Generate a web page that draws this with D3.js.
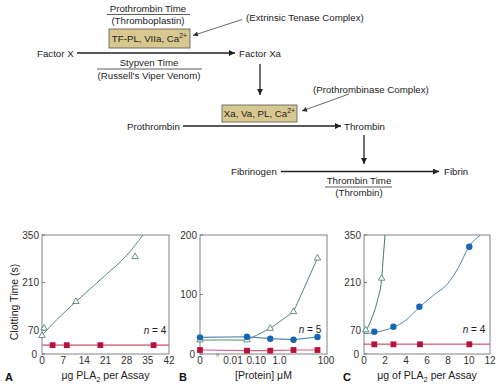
<!DOCTYPE html>
<html><head><meta charset="utf-8">
<script src="https://cdn.jsdelivr.net/npm/d3@7"></script>
<style>body{margin:0;background:#fff}svg{display:block;font-family:"Liberation Sans",Arial,sans-serif}</style>
</head><body>
<script>
// ---------- Data ----------
// Panel A
const aTicksX = [0, 7, 14, 21, 28, 35, 42];
const aTicksY = [0, 70, 210, 350];
const aTriX = [0, 0.7, 11.2, 30.8];
const aTriY = [54, 76, 154, 286];
const aCurveX = [0, 5, 11, 21, 28, 33.4];
const aCurveY = [55, 102, 152, 232, 290, 350];
const aSqX = [3.5, 8.2, 19.3, 36.9];
const aSqY = [26, 26, 26, 26];
const aLineY = 26;
// Panel B
const bTickLabels = ["0", "0.01", "0.10", "1.0", "100"];
const bTickVals = [0, 0.01, 0.1, 1, 100];
const bTicksY = [0, 100, 200];
const bX = [0, 0.04, 0.4, 4, 43];
const bCircY = [28, 29, 25.7, 24, 28.6];
const bTriY = [23.5, 23.5, 43, 71, 161];
const bSqY = [6.7, 5.6, 5.6, 6.7, 6.7];
// Panel C
const cTicksX = [0, 2, 4, 6, 8, 10, 12];
const cTicksY = [0, 70, 210, 350];
const cCircX = [0.98, 2.8, 5.27, 10.03];
const cCircY = [65.6, 80, 139, 315.6];
const cCurveX = [0, 1, 2, 2.8, 4, 5.3, 6.5, 8, 9, 10, 11.1];
const cCurveY = [60, 63, 70, 78, 100, 138, 170, 208, 255, 316, 350];
const cTriX = [0.16, 1.68];
const cTriY = [70.6, 222.6];
const cTriCurveX = [0, 0.2, 0.8, 1.3, 1.68, 1.85, 2.0];
const cTriCurveY = [62, 70, 110, 160, 222, 290, 350];
const cSqX = [0.98, 2.8, 5.33, 10.03];
const cSqY = [28.5, 28.5, 28.5, 28.5];
const cLineY = 29;

// ---------- Styles ----------
const GREEN = "#3f7f5a", BLUE = "#1766b4", BLUEL = "#4d86b5", RED = "#b5123c", PINK = "#d0637e";
const TAN = "#d8c890", TXT = "#222", AX = "#777";

const W = 500, H = 388;
const svg = d3.select("body").append("svg").attr("width", W).attr("height", H);

// ---------- Top diagram ----------
const g0 = svg.append("g").attr("font-size", 9.7).attr("fill", TXT);
svg.append("defs").append("marker").attr("id", "ah").attr("viewBox", "0 0 10 10")
  .attr("refX", 10).attr("refY", 5).attr("markerWidth", 7).attr("markerHeight", 6)
  .attr("markerUnits", "userSpaceOnUse").attr("orient", "auto")
  .append("path").attr("d", "M0,0L10,5L0,10Z").attr("fill", "#222");
svg.select("defs").append("marker").attr("id", "ahs").attr("viewBox", "0 0 10 10")
  .attr("refX", 10).attr("refY", 5).attr("markerWidth", 6).attr("markerHeight", 5)
  .attr("markerUnits", "userSpaceOnUse").attr("orient", "auto")
  .append("path").attr("d", "M0,0L10,5L0,10Z").attr("fill", "#333");

function txt(x, y, s, anchor) {
  return g0.append("text").attr("x", x).attr("y", y).attr("text-anchor", anchor || "start")
    .attr("dominant-baseline", "central").text(s);
}
function arrow(x1, y1, x2, y2, small) {
  g0.append("line").attr("x1", x1).attr("y1", y1).attr("x2", x2).attr("y2", y2)
    .attr("stroke", small ? "#444" : "#222").attr("stroke-width", small ? 0.8 : 1.3)
    .attr("marker-end", small ? "url(#ahs)" : "url(#ah)");
}
function hline(x1, x2, y) {
  g0.append("line").attr("x1", x1).attr("x2", x2).attr("y1", y).attr("y2", y).attr("stroke", "#333").attr("stroke-width", 0.8);
}
function box(x, y, w, h, label) {
  g0.append("rect").attr("x", x).attr("y", y).attr("width", w).attr("height", h)
    .attr("fill", TAN).attr("stroke", "#555").attr("stroke-width", 0.8);
  const t = g0.append("text").attr("x", x + w / 2).attr("y", y + h / 2 + 3.5).attr("text-anchor", "middle");
  t.append("tspan").text(label);
  t.append("tspan").attr("font-size", 7).attr("dy", -4).text("2+");
}

txt(148, 8, "Prothrombin Time", "middle");
hline(107, 190, 14.5);
txt(148, 20.5, "(Thromboplastin)", "middle");
box(109, 29, 81, 19, "TF-PL, VIIa, Ca");
txt(246, 17.5, "(Extrinsic Tenase Complex)");
arrow(242, 19.5, 193, 35.5, true);
txt(37, 53, "Factor X");
arrow(77, 53, 235, 53);
txt(239, 53, "Factor Xa");
txt(149, 62, "Stypven Time", "middle");
hline(97, 202, 69);
txt(149, 75, "(Russell's Viper Venom)", "middle");
arrow(260, 64, 260, 95);
txt(313, 89, "(Prothrombinase Complex)");
arrow(349, 94, 302, 111, true);
box(222, 105, 75, 17, "Xa, Va, PL, Ca");
txt(127, 126, "Prothrombin");
arrow(183, 126, 341, 126);
txt(344, 126, "Thrombin");
arrow(364, 135, 364, 164);
txt(231, 171.5, "Fibrinogen");
arrow(281, 171.5, 439, 171.5);
txt(444, 171.5, "Fibrin");
txt(359, 180.5, "Thrombin Time", "middle");
hline(325, 392, 187);
txt(359, 192.5, "(Thrombin)", "middle");

// ---------- Panels ----------
const TOP = 235, BOT = 354;
function frame(g, w) {
  g.append("rect").attr("x", 0).attr("y", TOP).attr("width", w).attr("height", BOT - TOP)
    .attr("fill", "none").attr("stroke", AX).attr("stroke-width", 0.9);
}
function yAxis(g, y, ticks) {
  ticks.forEach(v => {
    g.append("line").attr("x1", 0).attr("x2", 3).attr("y1", y(v)).attr("y2", y(v)).attr("stroke", AX);
    g.append("text").attr("x", v === 0 ? -5 : -3).attr("y", y(v)).attr("text-anchor", "end")
      .attr("dominant-baseline", "central").attr("font-size", 10).attr("fill", "#333").text(v);
  });
}
function xLabels(g, pos, labels) {
  labels.forEach((l, i) => {
    g.append("text").attr("x", pos[i]).attr("y", BOT + 10).attr("text-anchor", "middle")
      .attr("font-size", 10).attr("fill", "#333").text(l);
  });
}
function tri(g, x, y, color) {
  g.append("path").attr("d", d3.symbol(d3.symbolTriangle, 18)()).attr("transform", `translate(${x},${y})`)
    .attr("fill", "#fff").attr("stroke", color).attr("stroke-width", 0.8);
}
function sq(g, x, y) {
  g.append("rect").attr("x", x - 2.9).attr("y", y - 2.9).attr("width", 5.8).attr("height", 5.8).attr("fill", RED);
}
function circ(g, x, y) {
  g.append("circle").attr("cx", x).attr("cy", y).attr("r", 3.2).attr("fill", BLUE);
}
function nLabel(g, x, y, n) {
  const t = g.append("text").attr("x", x).attr("y", y).attr("text-anchor", "middle").attr("font-size", 10)
    .attr("dominant-baseline", "central").attr("fill", "#222");
  t.append("tspan").attr("font-style", "italic").text("n");
  t.append("tspan").text(" = " + n);
}
function clip(id, w) {
  svg.select("defs").append("clipPath").attr("id", id).append("rect")
    .attr("x", 0).attr("y", TOP).attr("width", w).attr("height", BOT - TOP);
}
function title(g, x, parts) {
  const t = g.append("text").attr("x", x).attr("y", BOT + 25).attr("text-anchor", "middle").attr("font-size", 10.5).attr("fill", "#222");
  parts.forEach(p => {
    if (p.sub) t.append("tspan").attr("font-size", 7.5).attr("dy", 2.5).text(p.sub);
    else t.append("tspan").attr("dy", p.reset ? -2.5 : 0).text(p.t);
  });
}
function panelLetter(x, s) {
  svg.append("text").attr("x", x).attr("y", 381).attr("font-size", 11).attr("font-weight", "bold").attr("fill", "#111").text(s);
}

// Panel A
{
  const L = 42, Wd = 127;
  const g = svg.append("g").attr("transform", `translate(${L},0)`);
  const x = d3.scaleLinear().domain([0, 42]).range([0, Wd]);
  const y = d3.scaleLinear().domain([0, 350]).range([BOT, TOP]);
  clip("cA", Wd);
  frame(g, Wd);
  yAxis(g, y, aTicksY);
  xLabels(g, aTicksX.map(x), aTicksX);
  const gc = g.append("g").attr("clip-path", "url(#cA)");
  gc.append("line").attr("x1", 0).attr("x2", Wd).attr("y1", y(aLineY)).attr("y2", y(aLineY)).attr("stroke", PINK).attr("stroke-width", 1.6).attr("opacity", 0.8);
  gc.append("path").attr("d", d3.line().x(d => x(d[0])).y(d => y(d[1])).curve(d3.curveMonotoneX)(d3.zip(aCurveX, aCurveY)))
    .attr("fill", "none").attr("stroke", GREEN).attr("stroke-width", 0.9);
  aSqX.forEach((v, i) => sq(g, x(v), y(aSqY[i])));
  aTriX.forEach((v, i) => tri(g, x(v), y(aTriY[i]), GREEN));
  nLabel(g, 113, 330, 4);
  title(g, Wd / 2, [{ t: "μg PLA" }, { sub: "2" }, { t: " per Assay", reset: true }]);
  svg.append("text").attr("transform", "translate(14,302) rotate(-90)").attr("text-anchor", "middle")
    .attr("font-size", 10.5).attr("fill", "#222").attr("dominant-baseline", "central").text("Clotting Time (s)");
  panelLetter(5, "A");
}

// Panel B
{
  const L = 200, Wd = 127;
  const g = svg.append("g").attr("transform", `translate(${L},0)`);
  const xl = d3.scaleLog().domain([0.01, 100]).range([33, 126]);
  const x = v => v === 0 ? 0 : xl(v);
  const y = d3.scaleLinear().domain([0, 200]).range([BOT, TOP]);
  frame(g, Wd);
  yAxis(g, y, bTicksY);
  xLabels(g, bTickVals.map(x), bTickLabels);
  // axis break mark
  g.append("text").attr("x", 17).attr("y", BOT + 1).attr("text-anchor", "middle").attr("dominant-baseline", "central")
    .attr("font-size", 8).attr("fill", "#777").text("≈").attr("transform", `rotate(90,17,${BOT + 1})`);
  const ln = d3.line().x(d => x(d[0])).y(d => y(d[1]));
  g.append("path").attr("d", ln(d3.zip(bX, bSqY))).attr("fill", "none").attr("stroke", PINK).attr("stroke-width", 1.2);
  g.append("path").attr("d", ln(d3.zip(bX, bTriY))).attr("fill", "none").attr("stroke", GREEN).attr("stroke-width", 0.9);
  g.append("path").attr("d", ln(d3.zip(bX, bCircY))).attr("fill", "none").attr("stroke", BLUEL).attr("stroke-width", 1.2);
  bX.forEach((v, i) => sq(g, x(v), y(bSqY[i])));
  bX.forEach((v, i) => tri(g, x(v), y(bTriY[i]), GREEN));
  bX.forEach((v, i) => circ(g, x(v), y(bCircY[i])));
  nLabel(g, 110, 328.5, 5);
  title(g, Wd / 2, [{ t: "[Protein] μM" }]);
  panelLetter(179, "B");
}

// Panel C
{
  const L = 364, Wd = 126;
  const g = svg.append("g").attr("transform", `translate(${L},0)`);
  const x = d3.scaleLinear().domain([0, 12]).range([0, Wd]);
  const y = d3.scaleLinear().domain([0, 350]).range([BOT, TOP]);
  clip("cC", Wd);
  frame(g, Wd);
  yAxis(g, y, cTicksY);
  xLabels(g, cTicksX.map(x), cTicksX);
  const gc = g.append("g").attr("clip-path", "url(#cC)");
  gc.append("line").attr("x1", 0).attr("x2", Wd).attr("y1", y(cLineY)).attr("y2", y(cLineY)).attr("stroke", RED).attr("stroke-width", 1).attr("opacity", 0.85);
  const ln = d3.line().x(d => x(d[0])).y(d => y(d[1])).curve(d3.curveMonotoneX);
  gc.append("path").attr("d", ln(d3.zip(cCurveX, cCurveY))).attr("fill", "none").attr("stroke", BLUEL).attr("stroke-width", 1);
  gc.append("path").attr("d", ln(d3.zip(cTriCurveX, cTriCurveY))).attr("fill", "none").attr("stroke", GREEN).attr("stroke-width", 1);
  cSqX.forEach((v, i) => sq(g, x(v), y(cSqY[i])));
  cCircX.forEach((v, i) => circ(g, x(v), y(cCircY[i])));
  cTriX.forEach((v, i) => tri(g, x(v), y(cTriY[i]), GREEN));
  nLabel(g, 110, 329, 4);
  title(g, Wd / 2, [{ t: "μg of PLA" }, { sub: "2" }, { t: " per Assay", reset: true }]);
  panelLetter(343, "C");
}
</script>
</body></html>
